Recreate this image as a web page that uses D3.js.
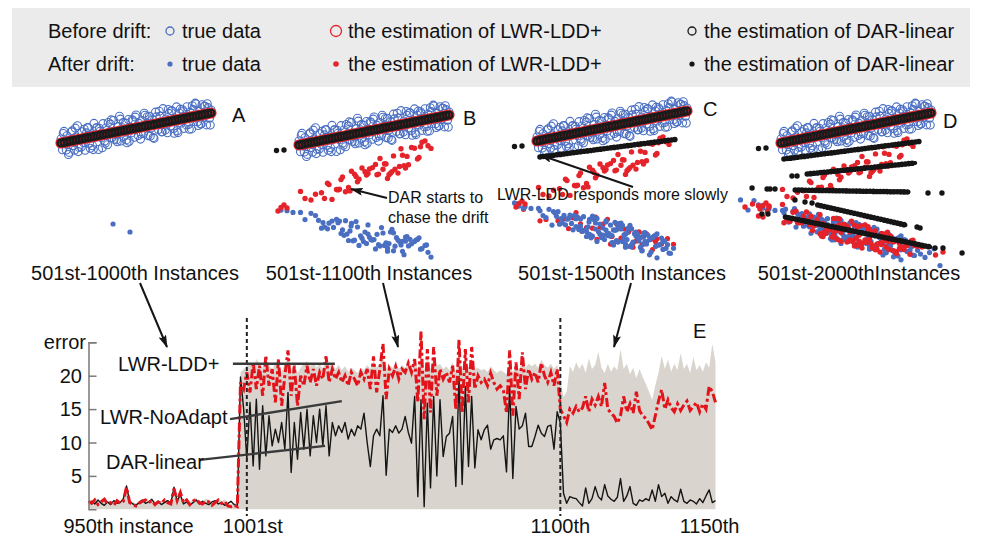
<!DOCTYPE html>
<html><head><meta charset="utf-8">
<script src="https://cdn.jsdelivr.net/npm/d3@7"></script>
<style>
body{margin:0;background:#fff}
svg text{font-family:"Liberation Sans",Arial,Helvetica,sans-serif;fill:#111}
</style>
</head><body>
<svg id="fig" width="981" height="540"></svg>
<script>
// ---------- scatter panels: feature x vs target y ----------
// true data before the drift (instances 501-1000)
const beforeTrue = [
[0,0.40],[0.1,-0.67],[0.2,1.16],[0.3,-0.11],[0.4,0.72],[0.5,-1.15],[0.6,0.28],[0.7,1.11],[0.8,-0.26],[0.9,-0.73],
[1.0,0.60],[1.1,1.73],[1.2,-0.44],[1.3,0.39],[1.4,1.12],[1.5,0.05],[1.6,-0.72],[1.7,1.01],[1.8,1.54],[1.9,-0.03],
[2.0,0.80],[2.1,-0.27],[2.2,1.96],[2.3,0.59],[2.4,1.52],[2.5,-0.65],[2.6,1.18],[2.7,0.51],[2.8,1.94],[2.9,0.17],
[3.0,1.50],[3.1,-0.17],[3.2,0.96],[3.3,1.89],[3.4,0.52],[3.5,2.25],[3.6,0.88],[3.7,0.31],[3.8,1.64],[3.9,2.67],
[4.0,0.20],[4.1,1.53],[4.2,0.66],[4.3,1.99],[4.4,0.02],[4.5,2.35],[4.6,1.48],[4.7,1.01],[4.8,2.24],[4.9,0.57],
[5.0,2.80],[5.1,1.43],[5.2,1.96],[5.3,0.39],[5.4,2.22],[5.5,0.95],[5.6,2.78],[5.7,1.91],[5.8,0.74],[5.9,2.67],
[6.0,1.50],[6.1,2.33],[6.2,0.46],[6.3,3.09],[6.4,1.92],[6.5,1.35],[6.6,2.68],[6.7,1.11],[6.8,3.44],[6.9,1.87],
[7.0,2.40],[7.1,1.03],[7.2,2.96],[7.3,1.69],[7.4,3.22],[7.5,1.45],[7.6,2.38],[7.7,3.61],[7.8,1.04],[7.9,2.97],
[8.0,2.00],[8.1,3.33],[8.2,1.46],[8.3,2.69],[8.4,3.62],[8.5,1.85],[8.6,3.08],[8.7,1.41],[8.8,3.34],[8.9,2.57],
[9.0,3.90],[9.1,2.13],[9.2,3.16],[9.3,1.89],[9.4,3.82],[9.5,2.55],[9.6,3.68],[9.7,1.81],[9.8,3.54],[9.9,2.47],[10.0,3.30],
[0.15,0.95],[0.55,-0.94],[0.95,1.49],[1.35,-0.40],[1.75,1.53],[2.15,-0.66],[2.55,1.47],[2.95,-0.02],[3.35,2.31],[3.75,0.13],
[4.15,2.05],[4.55,0.17],[4.95,2.59],[5.35,0.91],[5.75,2.63],[6.15,0.55],[6.55,3.17],[6.95,1.29],[7.35,3.21],[7.75,1.23],
[8.15,3.15],[8.55,1.37],[8.95,3.99],[9.35,1.91],[9.75,3.93],
[0.35,-0.70],[0.75,1.23],[1.15,-0.86],[1.55,1.37],[1.95,-0.52],[2.35,1.51],[2.75,-0.48],[3.15,2.05],[3.55,0.37],[3.95,2.39],
[4.35,0.31],[4.75,2.33],[5.15,0.75],[5.55,2.97],[5.95,0.69],[6.35,2.61],[6.75,1.13],[7.15,3.35],[7.55,0.97],[7.95,3.39],
[8.35,1.81],[8.75,3.73],[9.15,1.75],[9.55,3.67],[9.95,1.79]
];

// estimates before the drift (LWR-LDD+ and DAR-linear give the same fit)
const beforeEst = [
[0,0],[0.2,0.06],[0.4,0.12],[0.6,0.18],[0.8,0.24],[1.0,0.30],[1.2,0.36],[1.4,0.42],[1.6,0.48],[1.8,0.54],
[2.0,0.60],[2.2,0.66],[2.4,0.72],[2.6,0.78],[2.8,0.84],[3.0,0.90],[3.2,0.96],[3.4,1.02],[3.6,1.08],[3.8,1.14],
[4.0,1.20],[4.2,1.26],[4.4,1.32],[4.6,1.38],[4.8,1.44],[5.0,1.50],[5.2,1.56],[5.4,1.62],[5.6,1.68],[5.8,1.74],
[6.0,1.80],[6.2,1.86],[6.4,1.92],[6.6,1.98],[6.8,2.04],[7.0,2.10],[7.2,2.16],[7.4,2.22],[7.6,2.28],[7.8,2.34],
[8.0,2.40],[8.2,2.46],[8.4,2.52],[8.6,2.58],[8.8,2.64],[9.0,2.70],[9.2,2.76],[9.4,2.82],[9.6,2.88],[9.8,2.94],[10.0,3.00]
];

// true data after the drift, instances 1001-1100
const afterTrue = [
[3.47,-8.10],[4.6,-8.90],
[5.2,-8.93],[2.8,-8.85],[7.1,-9.21],[0.4,-7.46],[6.3,-10.58],[3.9,-8.20],[8.2,-10.36],[1.7,-8.20],[4.6,-7.99],[6.9,-10.63],
[2.2,-7.60],[5.8,-9.78],[7.7,-9.66],[3.3,-9.55],[-0.8,-6.57],[6.1,-8.70],[4.2,-9.32],[8.6,-10.73],[2.5,-7.43],[5.4,-10.11],
[7.3,-10.09],[1.1,-7.05],[3.7,-9.52],[6.6,-9.51],[4.9,-9.51],[8.0,-9.28],[2.9,-8.49],[5.6,-8.80],[-1.2,-6.51],[7.0,-10.97],
[3.5,-7.84],[6.0,-9.86],[4.4,-8.70],[1.5,-8.32],[7.9,-9.44],[5.1,-10.39],[2.6,-7.77],[6.8,-9.99],[3.1,-7.57],[8.8,-11.21],
[4.7,-9.23],[0.8,-6.83],[5.9,-10.32],[7.5,-9.88],[3.8,-7.66],[6.4,-10.12],[2.0,-7.82],[5.3,-9.97],[8.4,-10.04],[4.0,-10.04],
[6.7,-9.65],[1.9,-8.38],[7.2,-9.15],[3.4,-8.59],[5.7,-10.04],[0.1,-6.74],[6.2,-8.44],[4.5,-9.85],[8.1,-10.42],[2.7,-7.61],
[5.0,-9.45],[7.4,-9.43],[3.6,-9.58],[6.5,-9.27],[1.3,-7.53],[4.8,-9.47],[7.8,-9.50],[2.3,-8.24],[5.5,-8.26],[3.0,-9.03],
[6.9,-9.63],[4.3,-9.66],[8.5,-9.99],[1.6,-7.76],[5.9,-10.62],[7.1,-9.61],[3.2,-8.91],[6.3,-8.78],[-0.4,-6.74],[4.1,-9.08]
];
// true data after the drift, instances 1101-1500
const afterTrue2 = [
[4.4,-9.40],[6.6,-9.11],[2.1,-7.76],[7.6,-11.12],[5.3,-8.87],[0.6,-7.65],[8.3,-9.70],[3.6,-9.68],[5.8,-9.38],[1.4,-7.07],
[6.9,-10.63],[4.0,-7.74],[7.3,-10.29],[2.9,-7.79],[5.0,-10.15],[8.7,-10.37],[3.0,-8.93],[6.1,-8.70],[-0.9,-6.73],[4.7,-9.43],
[7.7,-9.66],[2.4,-8.88],[5.6,-8.20],[3.9,-8.80],[6.4,-10.22],[1.8,-7.44],[8.0,-11.68],[4.9,-8.41],[6.8,-9.69],[3.3,-9.05],
[9.1,-10.73],[5.4,-8.51],[2.6,-8.57],[7.0,-10.97],[4.2,-8.32],[0.2,-6.98],[6.3,-10.38],[3.7,-7.52],[7.9,-10.54],[5.1,-8.89],
[1.0,-8.41],[6.0,-9.16],[4.6,-8.09],[8.4,-10.84],[2.8,-8.85],[5.7,-8.44],[7.2,-10.05],[3.5,-9.34],[6.7,-9.35],[-1.5,-6.19],
[4.8,-9.27],[7.5,-11.38],[2.2,-7.40],[5.9,-9.32],[8.9,-11.25],[3.8,-7.86],[6.2,-10.54],[1.2,-7.19],[5.2,-8.13],[7.1,-10.31]
];
// true data after the drift, instances 1501-2000
const afterTrue3 = [
[-2.7,-5.69],[-2.2,-6.70],[-1.8,-5.76],[9.6,-11.44],[10.2,-10.58],[10.6,-12.25],[0.9,-6.57],[3.4,-9.69],[5.5,-8.86],[7.4,-10.73],
[2.5,-7.13],[6.5,-10.07],[4.1,-9.68],[8.6,-10.23],[1.6,-7.96],[5.0,-7.95],[7.8,-11.30],[3.1,-8.17],[6.1,-10.30],[0.3,-6.62],
[4.5,-9.35],[8.2,-9.66],[2.0,-9.02],[5.8,-9.98],[7.0,-9.07],[3.9,-8.40],[6.8,-11.19],[1.3,-7.53],[4.3,-8.16],[9.3,-11.11],
[0.5,-7.91],[2.7,-7.81],[5.3,-10.07],[6.4,-8.62],[8.0,-10.68],[3.6,-9.08],[7.6,-9.62],[4.9,-10.11],[1.9,-7.08],[9.9,-10.96]
];

// LWR-LDD+ estimates that still follow the old concept
const lddRise = [
[-1.4,-6.60],[-1.0,-6.00],
[5.2,-2.98],[2.8,-3.46],[7.1,-2.30],[0.4,-5.35],[6.3,-1.09],[3.9,-3.68],[8.2,0.28],[1.7,-5.35],[4.6,-2.85],[6.9,-1.02],
[2.2,-5.44],[5.8,-1.90],[7.7,-0.33],[3.3,-4.25],[-0.8,-6.30],[6.1,-2.82],[4.2,-2.30],[8.6,-0.07],[2.5,-4.45],[5.4,-1.35],
[7.3,-1.97],[1.1,-4.92],[3.7,-2.91],[6.6,-2.81],[4.9,-2.26],[8.0,-1.24],[2.9,-3.20],[5.6,-2.43],[-1.2,-6.24],[7.0,-2.06],
[3.5,-2.63],[6.0,-2.98],[4.4,-2.67],[1.5,-4.77],[7.9,-1.40],[5.1,-1.94],[2.6,-4.49],[6.8,-0.38],[3.1,-4.68],[8.8,-0.34],
[4.7,-2.39],[0.8,-5.50],[5.9,-3.34],[7.5,-0.25],[3.8,-3.14],[6.4,-2.43],[2.0,-3.96],[5.3,-2.91],[8.4,0.41],[4.0,-3.42],
[6.7,-2.15],[1.9,-3.82],[7.2,-1.14],[3.4,-4.59],[5.7,-1.87],[0.1,-4.64],[6.2,-2.66],[4.5,-3.01],[8.1,-0.18],[2.7,-4.43]
];
// LWR-LDD+ estimates once it has adapted to the new concept
const lddFall = [
[4.4,-8.30],[6.6,-10.01],[2.1,-8.76],[7.6,-9.82],[5.3,-8.27],[0.6,-7.85],[8.3,-10.30],[3.6,-9.48],[5.8,-8.78],[1.4,-7.97],
[6.9,-9.63],[4.0,-9.84],[7.3,-9.29],[2.9,-8.29],[5.0,-9.55],[8.7,-9.77],[3.0,-9.03],[6.1,-9.10],[-0.9,-6.83],[4.7,-7.83],
[7.7,-10.86],[2.4,-7.68],[5.6,-9.70],[3.9,-7.60],[6.4,-10.62],[1.8,-7.74],[8.0,-9.78],[4.9,-10.31],[6.8,-9.09],[3.3,-8.65],
[9.1,-10.33],[5.4,-10.01],[2.6,-7.17],[7.0,-10.37],[4.2,-8.62],[0.2,-7.98],[6.3,-8.78],[3.7,-8.72],[7.9,-10.04],[5.1,-10.19],
[1.0,-6.81],[6.0,-10.06],[4.6,-8.89],[8.4,-9.94],[2.8,-9.35],[5.7,-9.04],[7.2,-10.65],[3.5,-7.54],[6.7,-10.15],[-1.5,-6.29],
[4.8,-9.87],[7.5,-9.88],[2.2,-8.20],[5.9,-8.62],[8.9,-10.25],[3.8,-9.66],[6.2,-8.94],[1.2,-7.99],[5.2,-9.23],[7.1,-8.91]
];
const lddFall2 = [
[5.2,-9.83],[2.8,-8.05],[7.1,-9.21],[0.4,-7.66],[6.3,-10.68],[3.9,-8.20],[8.2,-10.66],[1.7,-6.90],[4.6,-9.69],[6.9,-9.63],
[2.2,-8.30],[5.8,-8.38],[7.7,-11.06],[3.3,-8.45],[-0.8,-6.37],[6.1,-10.50],[4.2,-8.12],[8.6,-11.13],[2.5,-8.03],[5.4,-10.51],
[7.3,-9.49],[1.1,-7.95],[3.7,-8.32],[6.6,-10.91],[4.9,-8.21],[8.0,-10.48],[2.9,-8.89],[5.6,-8.20],[-1.2,-7.41],[7.0,-9.77],
[3.5,-9.04],[6.0,-8.86],[4.4,-9.90],[1.5,-7.32],[7.9,-10.54],[5.1,-8.39],[2.6,-9.07],[6.8,-9.79],[3.1,-8.67],[8.8,-9.71],
[4.7,-9.73],[0.8,-6.93],[5.9,-9.62],[7.5,-10.78],[3.8,-7.56],[6.4,-10.12],[2.0,-7.32],[5.3,-10.27],[8.4,-10.24],[4.0,-8.94],
[6.7,-9.05],[1.9,-8.18],[7.2,-9.85],[3.4,-9.39],[5.7,-9.94],[0.1,-6.14],[6.2,-10.34],[4.5,-8.55],[8.1,-10.42],[2.7,-9.31],
[-2.4,-6.40],[-1.9,-6.10],[-1.5,-7.30],[9.4,-10.40],[10.3,-11.20],[10.8,-10.90]
];

// DAR-linear: successive fitted lines [x1, y1, x2, y2] and stray estimates
const darLines = [
[0.2,-1.6,9.2,0.15],
[1.75,-3.1,8.95,-2.0],
[0.95,-4.7,8.5,-4.9],
[2.45,-6.2,8.3,-8.2],
[0.3,-7.4,9.95,-10.4]
];
const darOld = [[-1.5,-0.55],[-1.0,-0.5]];
const darStray = [
[0.73,-3.3],[1.07,-3.3],[-1.93,-4.5],[-0.93,-4.6],[-0.73,-4.6],[-0.4,-4.6],[9.8,-5.0],[10.73,-5.0],
[0.93,-5.7],[1.6,-5.9],[2.07,-6.0],[9.07,-8.4],[9.27,-8.5],[-1.27,-7.1],[-0.87,-7.1],[10.27,-10.5],[10.8,-10.5],[12.07,-11.0]
];

const panelNames = ["A","B","C","D"];
const panelTitles = ["501st-1000th Instances","501st-1100th Instances","501st-1500th Instances","501st-2000thInstances"];

// ---------- error curves, instances 951-1149 ----------
const instStart = 951, instEnd = 1149;
const driftPoints = [1001, 1100];
const darLinear = [
1.0,1.2,0.8,1.4,0.9,0.6,1.1,0.7,1.3,0.9,1.0,1.6,3.5,1.2,0.8,0.6,1.0,1.4,0.9,1.1,1.5,0.8,1.2,0.7,1.0,1.3,0.9,3.3,1.2,2.2,0.8,1.1,0.6,1.0,1.4,0.8,1.2,0.9,0.7,1.1,1.3,0.8,1.0,0.6,0.9,1.2,0.7,0.5,
19.8,15.0,
7.5,16.0,6.5,16.5,6.0,15.5,8.0,14.0,9.5,12.0,
10.0,13.0,9.0,17.5,5.5,13.0,7.5,14.5,9.0,15.0,
8.0,14.0,10.0,15.0,9.5,15.5,8.0,13.0,11.0,12.5,
11.5,13.0,10.5,12.0,11.0,12.5,12.0,14.4,10.0,6.4,
11.0,12.0,11.0,17.0,5.1,12.0,11.5,12.5,11.4,12.0,
13.9,11.5,9.9,16.9,1.9,16.4,0.4,15.9,3.2,16.9,
5.0,16.4,7.9,10.9,11.4,13.9,3.4,19.9,3.7,18.4,
6.4,16.9,6.2,11.9,10.4,11.9,12.6,9.0,10.4,10.6,
10.4,11.0,5.6,18.4,4.6,15.4,12.0,12.5,14.4,9.4,
9.4,10.9,12.6,11.4,10.9,12.4,12.6,9.0,14.6,12.9,
2.4,0.9,1.9,1.7,1.6,1.0,0.5,3.2,0.9,1.6,
3.4,1.9,1.4,3.7,2.0,1.5,1.2,1.8,4.6,1.2,
2.0,3.4,0.9,0.6,1.4,1.2,1.6,1.3,2.9,1.2,
3.7,1.9,2.4,0.9,1.9,1.4,1.1,3.0,1.2,0.9,
1.4,1.2,0.8,1.6,1.0,2.0,2.9,1.0,1.3
];
const lwrLddPlus = [
1.2,0.9,1.4,0.7,1.1,1.5,0.8,1.0,0.6,1.3,0.9,1.2,3.3,1.0,0.7,0.5,0.9,1.2,1.4,1.0,1.3,0.7,1.1,0.9,1.4,1.0,0.8,3.1,1.3,2.5,1.0,1.4,0.7,1.2,1.5,1.0,0.8,1.3,1.1,0.6,1.0,1.4,0.9,1.2,0.5,0.4,0.6,0.4,
19.0,18.0,
20.5,17.5,22.0,18.0,21.5,17.0,23.0,18.5,21.0,16.0,
22.5,15.5,20.0,23.8,17.0,21.5,15.5,20.0,18.5,21.5,
19.0,21.0,18.5,20.5,19.5,22.9,19.0,21.0,19.5,20.5,
19.0,20.0,18.5,20.5,19.5,18.5,20.5,19.5,21.0,18.0,
22.9,17.5,21.0,24.8,16.5,21.0,20.0,21.4,19.5,21.0,
20.5,21.9,20.5,22.5,16.0,26.6,13.5,24.0,14.5,24.3,
17.0,21.0,19.5,20.5,19.0,21.5,14.9,25.4,14.4,24.0,
16.0,24.3,18.0,20.0,19.0,19.5,18.5,20.4,19.0,18.0,
18.5,17.9,14.4,23.8,14.0,22.0,16.5,23.5,18.0,21.0,
19.5,20.5,19.0,21.9,20.0,19.0,20.5,18.5,21.0,15.0,
14.0,13.0,15.0,14.4,15.4,14.6,15.2,16.9,14.6,16.5,
15.6,16.9,15.4,18.9,15.0,14.4,13.9,12.9,14.0,16.9,
14.6,15.8,14.4,17.6,14.8,14.0,13.6,12.8,11.9,14.0,
16.2,17.9,15.0,16.4,15.2,14.6,15.8,14.8,15.6,16.2,
14.8,15.4,16.0,14.6,15.8,15.0,18.4,17.6,16.0
];
const lwrNoAdapt = [
1.4,1.3,1.6,1.0,1.5,1.7,1.2,1.3,1.0,1.6,1.2,1.5,3.0,1.4,1.1,0.9,1.3,1.5,1.6,1.3,1.6,1.1,1.4,1.2,1.7,1.3,1.1,2.8,1.6,2.2,1.3,1.6,1.0,1.5,1.7,1.3,1.1,1.6,1.4,1.0,1.3,1.6,1.2,1.5,0.9,0.8,1.0,0.8,
20.5,21.0,
21.5,22.0,21.0,22.5,21.8,21.2,22.4,21.6,20.8,22.0,
21.4,20.6,21.8,22.6,21.0,21.6,20.4,21.2,21.8,22.2,
21.4,22.0,21.2,21.8,21.0,22.6,21.4,21.8,21.0,21.6,
20.8,21.4,20.6,21.2,20.8,20.4,21.2,20.8,21.6,21.0,
22.4,21.2,21.8,23.0,21.0,21.6,21.2,21.8,21.0,21.6,
21.2,22.0,21.4,22.6,21.0,23.2,20.6,22.8,21.0,22.8,
21.4,21.8,21.0,21.4,20.8,22.0,20.6,23.4,20.8,22.8,
21.2,22.6,21.0,21.2,20.8,21.0,20.6,21.4,20.8,20.4,
20.8,20.6,20.2,22.4,20.4,21.8,20.8,22.4,21.2,21.8,
21.4,21.8,21.2,22.4,21.6,21.2,21.8,21.0,21.6,19.5,
16.8,17.6,21.4,20.6,22.0,21.0,21.8,20.4,22.6,21.0,
21.6,23.6,21.2,20.4,21.8,20.6,21.4,20.8,24.0,21.0,
21.8,20.2,21.2,19.6,21.0,19.8,18.8,17.6,16.4,18.6,
20.4,23.0,21.0,22.4,20.6,21.8,20.8,23.4,21.0,21.8,
20.4,22.8,20.8,21.6,20.6,22.0,21.2,24.8,22.0
];
const yTicks = [5, 10, 15, 20];

// ---------- drawing ----------
const svg = d3.select("#fig");
const FONT = 20;
const BLUE = "#4a6fc2", RED = "#e5232a", BLACK = "#151515";

// arrowhead
svg.append("defs").append("marker")
  .attr("id","head").attr("viewBox","0 0 13 8").attr("refX",12).attr("refY",4)
  .attr("markerWidth",13).attr("markerHeight",8).attr("markerUnits","userSpaceOnUse")
  .attr("orient","auto")
  .append("path").attr("d","M0,0L13,4L0,8L2.5,4Z").attr("fill",BLACK);

// legend box
const leg = svg.append("g");
leg.append("rect").attr("x",12).attr("y",8).attr("width",958).attr("height",79).attr("fill","#ebebeb");
const legRows = [
  {label:"Before drift:", y:31, open:true},
  {label:"After drift:",  y:64, open:false}
];
const legItems = [
  {x:170, text:"true data", color:BLUE, rOpen:4, rDot:2.6},
  {x:336, text:"the estimation of LWR-LDD+", color:RED, rOpen:5.5, rDot:2.8},
  {x:692, text:"the estimation of DAR-linear", color:BLACK, rOpen:4, rDot:2.6}
];
legRows.forEach(row => {
  leg.append("text").attr("x",48).attr("y",row.y+7).attr("font-size",FONT).text(row.label);
  legItems.forEach(it => {
    const c = leg.append("circle").attr("cx",it.x).attr("cy",row.y);
    if (row.open) c.attr("r",it.rOpen).attr("fill","none").attr("stroke",it.color).attr("stroke-width",1.3);
    else c.attr("r",it.rDot).attr("fill",it.color);
    leg.append("text").attr("x",it.x+12).attr("y",row.y+7).attr("font-size",FONT).text(it.text);
  });
});

// scatter panels
const panelLayout = [
  {ox:61,  oy:143, letter:[232,122], title:135},
  {ox:299, oy:145, letter:[463,125], title:369},
  {ox:537, oy:141, letter:[703,116], title:622},
  {ox:781, oy:143, letter:[943,128], title:859}
];
const panelContent = [
  {blue:afterTrue.slice(0,2), rise:[], fall:[], lines:[], stray:[], redOnTop:false},
  {blue:afterTrue, rise:lddRise, fall:[], lines:[], stray:darOld, redOnTop:false},
  {blue:afterTrue.concat(afterTrue2), rise:lddRise, fall:lddFall.slice(0,40), lines:darLines.slice(0,1), stray:darOld, redOnTop:false},
  {blue:afterTrue.concat(afterTrue2, afterTrue3), rise:lddRise, fall:lddFall.concat(lddFall2), lines:darLines, stray:darOld.concat(darStray), redOnTop:true}
];

panelLayout.forEach((L, i) => {
  const P = panelContent[i];
  const sx = d3.scaleLinear().domain([0,10]).range([L.ox, L.ox+150]);
  const sy = d3.scaleLinear().domain([0,-10]).range([L.oy, L.oy+100]);
  const g = svg.append("g");
  const rings = (data, r, color, w) => g.append("g").selectAll("circle").data(data).join("circle")
      .attr("cx",d=>sx(d[0])).attr("cy",d=>sy(d[1])).attr("r",r)
      .attr("fill","none").attr("stroke",color).attr("stroke-width",w);
  const dots = (data, r, color) => g.append("g").selectAll("circle").data(data).join("circle")
      .attr("cx",d=>sx(d[0])).attr("cy",d=>sy(d[1])).attr("r",r).attr("fill",color);

  rings(beforeTrue, 4, BLUE, 1.1);
  rings(beforeEst, 4.9, RED, 1.4);
  rings(beforeEst, 3.4, "#1b1b1b", 2.4);

  if (!P.redOnTop) { dots(P.fall, 2.6, RED); dots(P.blue, 2.6, BLUE); }
  else { dots(P.blue, 2.6, BLUE); dots(P.fall, 2.7, RED); }
  dots(P.rise, 2.7, RED);

  P.lines.forEach(s => {
    g.append("line").attr("x1",sx(s[0])).attr("y1",sy(s[1])).attr("x2",sx(s[2])).attr("y2",sy(s[3]))
      .attr("stroke",BLACK).attr("stroke-width",4).attr("stroke-linecap","round");
    g.append("line").attr("x1",sx(s[0])).attr("y1",sy(s[1])).attr("x2",sx(s[2])).attr("y2",sy(s[3]))
      .attr("stroke",BLACK).attr("stroke-width",5.6).attr("stroke-linecap","round")
      .attr("stroke-dasharray","0 3.4");
  });
  dots(P.stray, 2.7, BLACK);

  svg.append("text").attr("x",L.letter[0]).attr("y",L.letter[1]).attr("font-size",FONT).text(panelNames[i]);
  svg.append("text").attr("x",L.title).attr("y",280).attr("font-size",FONT)
    .attr("text-anchor","middle").text(panelTitles[i]);
});

// annotations in panels B and C
const ann = svg.append("g");
ann.append("text").attr("x",388).attr("y",203).attr("font-size",16).text("DAR starts to");
ann.append("text").attr("x",388).attr("y",223).attr("font-size",16).text("chase the drift");
ann.append("line").attr("x1",387).attr("y1",198).attr("x2",351).attr("y2",189)
  .attr("stroke",BLACK).attr("stroke-width",2).attr("marker-end","url(#head)");
ann.append("text").attr("x",497).attr("y",200).attr("font-size",16).text("LWR-LDD responds more slowly");
ann.append("line").attr("x1",633).attr("y1",187).attr("x2",540).attr("y2",155)
  .attr("stroke",BLACK).attr("stroke-width",2).attr("marker-end","url(#head)");

// arrows from panels down to the error plot
[[140,283,167,347],[383,283,398,347],[631,283,614,347]].forEach(a => {
  svg.append("line").attr("x1",a[0]).attr("y1",a[1]).attr("x2",a[2]).attr("y2",a[3])
    .attr("stroke",BLACK).attr("stroke-width",2).attr("marker-end","url(#head)");
});

// ---------- error plot E ----------
const instances = d3.range(instStart, instEnd+1);
const x = d3.scaleLinear().domain([instStart, instEnd]).range([88.5, 715.5]);
const y = d3.scaleLinear().domain([0, 25]).range([509.3, 342.3]);
const E = svg.append("g");

E.append("path").datum(lwrNoAdapt)
  .attr("d", d3.area().x((d,i)=>x(instances[i])).y0(y(0)).y1(d=>y(d)))
  .attr("fill","#d9d5ce");

E.append("path").datum(darLinear)
  .attr("d", d3.line().x((d,i)=>x(instances[i])).y(d=>y(d)))
  .attr("fill","none").attr("stroke",BLACK).attr("stroke-width",1.4).attr("stroke-linejoin","round");

E.append("path").datum(lwrLddPlus)
  .attr("d", d3.line().x((d,i)=>x(instances[i])).y(d=>y(d)))
  .attr("fill","none").attr("stroke","#e3131b").attr("stroke-width",3)
  .attr("stroke-dasharray","9 3 3 3");

driftPoints.forEach(p => {
  E.append("line").attr("x1",x(p)).attr("x2",x(p)).attr("y1",318).attr("y2",516)
    .attr("stroke","#222").attr("stroke-width",2).attr("stroke-dasharray","4 3");
});

// y axis with inward ticks; the top tick is captioned "error"
const yAxis = d3.axisRight(y).tickValues(yTicks.concat([25])).tickSize(8).tickFormat("");
const ya = E.append("g").attr("transform",`translate(${x(instStart)},0)`).call(yAxis);
ya.select(".domain").attr("stroke","#7a7a7a").attr("stroke-width",1.5);
ya.selectAll(".tick line").attr("stroke","#7a7a7a").attr("stroke-width",1.5);
yTicks.forEach(t => {
  E.append("text").attr("x",82).attr("y",y(t)+7).attr("font-size",FONT).attr("text-anchor","end").text(t);
});
E.append("text").attr("x",86).attr("y",y(25)+7).attr("font-size",FONT).attr("text-anchor","end").text("error");

// series labels with leader lines
const seriesLabels = [
  {text:"LWR-LDD+",    tx:118, ty:371, from:[996.6,21.8], to:[1028.8,21.8]},
  {text:"LWR-NoAdapt", tx:100, ty:424, from:[995.7,13.5], to:[1031.0,16.2]},
  {text:"DAR-linear",  tx:106, ty:469, from:[986.2,7.4],  to:[1025.7,9.5]}
];
seriesLabels.forEach(s => {
  E.append("line").attr("x1",x(s.from[0])).attr("y1",y(s.from[1])).attr("x2",x(s.to[0])).attr("y2",y(s.to[1]))
    .attr("stroke","#3a3a3a").attr("stroke-width",2.4);
  E.append("text").attr("x",s.tx).attr("y",s.ty).attr("font-size",FONT).text(s.text);
});

// x labels
const xLabels = [
  {text:"950th instance", at:instStart, dx:-25, anchor:"start"},
  {text:"1001st", at:1001, dx:6, anchor:"middle"},
  {text:"1100th", at:1100, dx:0, anchor:"middle"},
  {text:"1150th", at:instEnd, dx:-6, anchor:"middle"}
];
xLabels.forEach(l => {
  E.append("text").attr("x",x(l.at)+l.dx).attr("y",533).attr("font-size",FONT)
    .attr("text-anchor",l.anchor).text(l.text);
});
E.append("text").attr("x",693).attr("y",338).attr("font-size",FONT).text("E");
</script>
</body></html>
